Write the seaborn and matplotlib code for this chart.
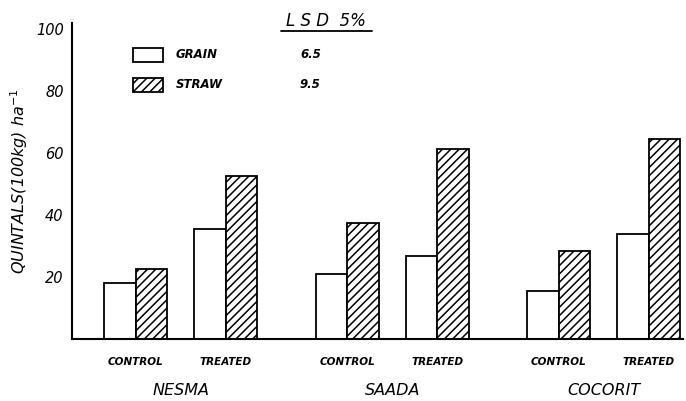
import pandas as pd
import matplotlib
matplotlib.use('Agg')
import matplotlib.pyplot as plt
from matplotlib.patches import Rectangle
from matplotlib.lines import Line2D
import seaborn as sns

sns.set_style('white')
plt.rcParams['font.family'] = ['DejaVu Sans']
plt.rcParams['hatch.linewidth'] = 1.1
for key in ['text.color', 'axes.labelcolor', 'xtick.color', 'ytick.color']:
    plt.rcParams[key] = 'black'

# data (quintals per ha)
varieties = ['NESMA', 'SAADA', 'COCORIT']
treatments = ['CONTROL', 'TREATED']
grain = [18.0, 35.5, 21.0, 26.9, 15.5, 34.0]
straw = [22.7, 52.5, 37.6, 61.4, 28.5, 64.7]
lsd_labels = ['GRAIN', 'STRAW']
lsd_values = ['6.5', '9.5']
yticks = [20, 40, 60, 80, 100]

GROUP_STEP = 2.35  # spacing between varieties on the x axis

rows = []
for i, v in enumerate(varieties):
    for j, t in enumerate(treatments):
        k = i * 2 + j
        pos = i * GROUP_STEP + j
        rows.append({'pos': pos, 'variety': v, 'treatment': t, 'component': 'GRAIN', 'value': grain[k]})
        rows.append({'pos': pos, 'variety': v, 'treatment': t, 'component': 'STRAW', 'value': straw[k]})
df = pd.DataFrame(rows)

W, H = 686, 401
fig = plt.figure(figsize=(W / 100, H / 100), dpi=100)
ax = fig.add_axes([72 / W, 1 - 339 / H, (683 - 72) / W, (339 - 23) / H])

sns.barplot(data=df, x='pos', y='value', hue='component', native_scale=True,
            width=0.7, palette=['white', 'white'], edgecolor='black',
            linewidth=1.3, saturation=1, legend=False, ax=ax)
for bar in ax.containers[1]:
    bar.set_hatch('////')

ax.set_xlim(-0.71, 6.08)
ax.set_ylim(0, 102)
ax.set_xticks([])
ax.set_yticks(yticks)
ax.set_yticklabels([str(t) for t in yticks], fontstyle='italic', fontsize=10.5)
ax.tick_params(axis='y', direction='in', length=3, width=1.2, pad=6)
ax.set_xlabel('')
ax.set_ylabel('QUINTALS(100kg) ha$^{-1}$', fontstyle='italic', fontsize=11.5, labelpad=4)
sns.despine(ax=ax)
for s in ['left', 'bottom']:
    ax.spines[s].set_linewidth(1.5)
    ax.spines[s].set_color('black')

trans = ax.get_xaxis_transform()
for i, v in enumerate(varieties):
    for j, t in enumerate(treatments):
        ax.text(i * GROUP_STEP + j, -0.073, t, transform=trans, ha='center', va='center',
                fontsize=7.5, fontweight='bold', fontstyle='italic')
    ax.text(i * GROUP_STEP + 0.5, -0.162, v, transform=trans, ha='center', va='center',
            fontsize=11.5, fontstyle='italic')


def fx(px):
    return px / W


def fy(py):
    return 1 - py / H


# legend / LSD table
fig.text(fx(326), fy(21), 'L S D  5%', ha='center', va='center', fontsize=12, fontstyle='italic')
fig.add_artist(Line2D([fx(281), fx(372)], [fy(31), fy(31)], color='black', lw=1.3))
for k, (lab, val) in enumerate(zip(lsd_labels, lsd_values)):
    yc = 55 + k * 30
    fig.add_artist(Rectangle((fx(133), fy(yc + 7)), fx(30), 14 / H, facecolor='white',
                             edgecolor='black', lw=1.3, hatch='////' if k else None))
    fig.text(fx(176), fy(yc), lab, ha='left', va='center', fontsize=8.5,
             fontweight='bold', fontstyle='italic')
    fig.text(fx(300), fy(yc), val, ha='left', va='center', fontsize=8.5,
             fontweight='bold', fontstyle='italic')

fig.savefig('out.png', dpi=100)
